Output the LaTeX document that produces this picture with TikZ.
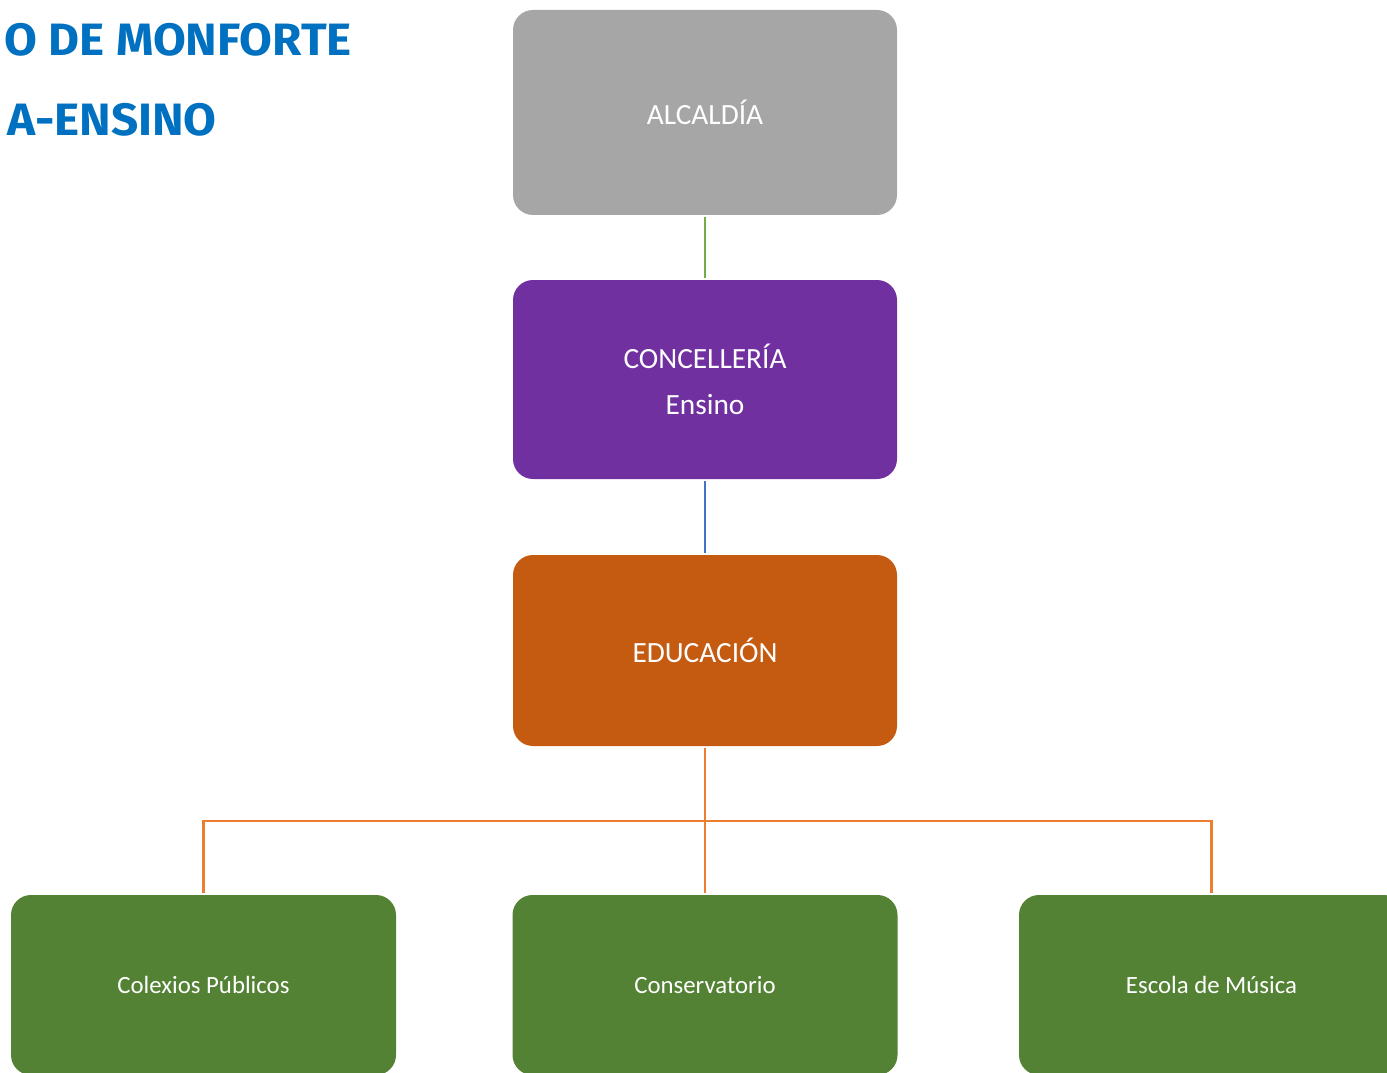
\documentclass[tikz,border=0pt]{standalone}
\usepackage{fontspec}
\usepackage{graphicx}
\setmainfont{Carlito}
\newfontfamily\titlefont{Fira Sans}[BoldFont={Fira Sans Bold}]
\definecolor{boxgray}{HTML}{A6A6A6}
\definecolor{boxpurple}{HTML}{7030A0}
\definecolor{boxorange}{HTML}{C55A11}
\definecolor{boxgreen}{HTML}{548235}
\definecolor{lngreen}{HTML}{70AD47}
\definecolor{lnblue}{HTML}{4472C4}
\definecolor{lnorange}{HTML}{ED7D31}
\definecolor{titleblue}{HTML}{0070C0}
\tikzset{
  orgbox/.style={rounded corners=15pt, inner sep=0pt, text=white, align=center,
     minimum width=288pt},
  topbox/.style={orgbox, font=\fontsize{22}{34.5}\selectfont},
  leafbox/.style={orgbox, fill=boxgreen, minimum width=288.75pt, minimum height=135pt,
     font=\fontsize{18.6}{22}\selectfont},
  conn/.style={line width=1.6pt, shorten <=1.5pt, shorten >=1.5pt},
  titletext/.style={anchor=east, inner sep=0pt, text=titleblue,
     font=\titlefont\bfseries\fontsize{34}{40}\selectfont}
}
\begin{document}
\begin{tikzpicture}[x=0.75pt,y=-0.75pt]
\useasboundingbox (0,0) rectangle (1387,1073);
% title
\node[titletext] (t1) at (352,40) {\scalebox{1.05}[1]{O DE MONFORTE}};
\node[titletext] (t2) at (217,120) {\scalebox{1.05}[1]{A-ENSINO}};
% boxes
\node[topbox, fill=boxgray, minimum height=153.75pt] (alc) at (705,112.5) {ALCALDÍA};
\node[topbox, fill=boxpurple, minimum height=149.25pt] (conc) at (705,379.5) {CONCELLERÍA\\Ensino};
\node[topbox, fill=boxorange, minimum height=143.25pt] (edu) at (705,650.5) {EDUCACIÓN};
\node[leafbox] (col) at (203.5,985) {Colexios Públicos};
\node[leafbox] (cons) at (705,985) {Conservatorio};
\node[leafbox] (esc) at (1211.5,985) {Escola de Música};
% connectors
\coordinate (bus) at (705,821);
\draw[conn, lngreen] (alc.south) -- (conc.north);
\draw[conn, lnblue] (conc.south) -- (edu.north);
\draw[conn, lnorange] (edu.south) -- (cons.north);
\draw[conn, lnorange] (col.north) -- (col.north |- bus) -- (esc.north |- bus) -- (esc.north);
\end{tikzpicture}
\end{document}
